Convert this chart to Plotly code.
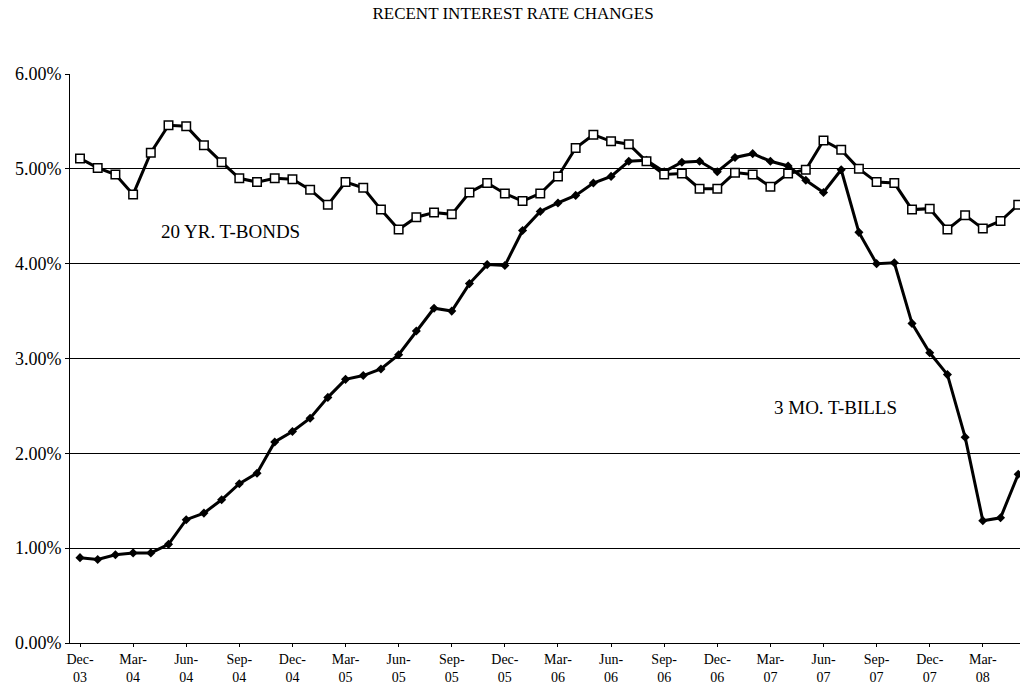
import plotly.graph_objects as go

months = ["Dec-03","Jan-04","Feb-04","Mar-04","Apr-04","May-04","Jun-04","Jul-04","Aug-04","Sep-04",
          "Oct-04","Nov-04","Dec-04","Jan-05","Feb-05","Mar-05","Apr-05","May-05","Jun-05","Jul-05",
          "Aug-05","Sep-05","Oct-05","Nov-05","Dec-05","Jan-06","Feb-06","Mar-06","Apr-06","May-06",
          "Jun-06","Jul-06","Aug-06","Sep-06","Oct-06","Nov-06","Dec-06","Jan-07","Feb-07","Mar-07",
          "Apr-07","May-07","Jun-07","Jul-07","Aug-07","Sep-07","Oct-07","Nov-07","Dec-07","Jan-08",
          "Feb-08","Mar-08","Apr-08","May-08"]

bonds_20yr = [5.11, 5.01, 4.94, 4.73, 5.17, 5.46, 5.45, 5.25, 5.07, 4.90,
              4.86, 4.90, 4.89, 4.78, 4.62, 4.86, 4.80, 4.57, 4.36, 4.49,
              4.54, 4.52, 4.75, 4.85, 4.74, 4.66, 4.74, 4.92, 5.22, 5.36,
              5.29, 5.26, 5.08, 4.94, 4.95, 4.79, 4.79, 4.96, 4.94, 4.81,
              4.95, 4.99, 5.30, 5.20, 5.00, 4.86, 4.85, 4.57, 4.58, 4.36,
              4.51, 4.37, 4.45, 4.62]

bills_3mo = [0.90, 0.88, 0.93, 0.95, 0.95, 1.04, 1.30, 1.37, 1.51, 1.68,
             1.79, 2.12, 2.23, 2.37, 2.59, 2.78, 2.82, 2.89, 3.04, 3.29,
             3.53, 3.50, 3.79, 3.99, 3.98, 4.35, 4.55, 4.64, 4.72, 4.85,
             4.92, 5.08, 5.09, 4.97, 5.07, 5.08, 4.97, 5.12, 5.16, 5.08,
             5.03, 4.88, 4.75, 4.99, 4.33, 4.00, 4.01, 3.37, 3.06, 2.83,
             2.17, 1.29, 1.32, 1.78]

tick_labels = ["Dec-<br>03","Mar-<br>04","Jun-<br>04","Sep-<br>04","Dec-<br>04","Mar-<br>05",
               "Jun-<br>05","Sep-<br>05","Dec-<br>05","Mar-<br>06","Jun-<br>06","Sep-<br>06",
               "Dec-<br>06","Mar-<br>07","Jun-<br>07","Sep-<br>07","Dec-<br>07","Mar-<br>08"]
y_ticks = [0, 1, 2, 3, 4, 5, 6]

x = list(range(len(months)))
FONT = "Liberation Serif, Times New Roman, serif"

fig = go.Figure()
fig.add_trace(go.Scatter(
    x=x, y=bills_3mo, mode="lines+markers", name="3 MO. T-BILLS",
    line=dict(color="black", width=3),
    marker=dict(symbol="diamond", size=7, color="black"),
    hovertext=months, cliponaxis=True))
fig.add_trace(go.Scatter(
    x=x, y=bonds_20yr, mode="lines+markers", name="20 YR. T-BONDS",
    line=dict(color="black", width=3),
    marker=dict(symbol="square", size=8.5, color="white", line=dict(color="black", width=1.5)),
    hovertext=months, cliponaxis=True))

fig.update_layout(
    width=1020, height=696,
    margin=dict(l=70, r=0, t=74, b=53),
    paper_bgcolor="white", plot_bgcolor="white",
    showlegend=False,
    font=dict(family=FONT, color="black", size=14),
    title=dict(text="RECENT INTEREST RATE CHANGES", x=0.503, xanchor="center",
               y=0.981, yanchor="middle", font=dict(family=FONT, size=17, color="black")),
    xaxis=dict(range=[-0.565, 53.1], tickmode="array",
               tickvals=list(range(0, 52, 3)), ticktext=tick_labels,
               showgrid=False, zeroline=False, showline=True, linecolor="black", linewidth=1,
               ticks="outside", ticklen=3, tickcolor="black",
               tickfont=dict(family=FONT, size=14, color="black")),
    yaxis=dict(range=[0, 6], tickmode="array", tickvals=y_ticks,
               ticktext=[f"{v:.2f}%" for v in y_ticks],
               showgrid=True, gridcolor="black", gridwidth=1,
               zeroline=False, showline=True, linecolor="black", linewidth=1,
               ticks="outside", ticklen=4, tickcolor="black",
               tickfont=dict(family=FONT, size=18, color="black")),
    annotations=[
        dict(text="20 YR. T-BONDS", x=8.5, y=4.34, xref="x", yref="y", showarrow=False,
             font=dict(family=FONT, size=19, color="black")),
        dict(text="3 MO. T-BILLS", x=42.7, y=2.48, xref="x", yref="y", showarrow=False,
             font=dict(family=FONT, size=19, color="black")),
    ],
)

fig.write_html("out.html",
               config={"displayModeBar": False},
               post_script="document.body.style.margin='0';document.body.style.overflow='hidden';")
